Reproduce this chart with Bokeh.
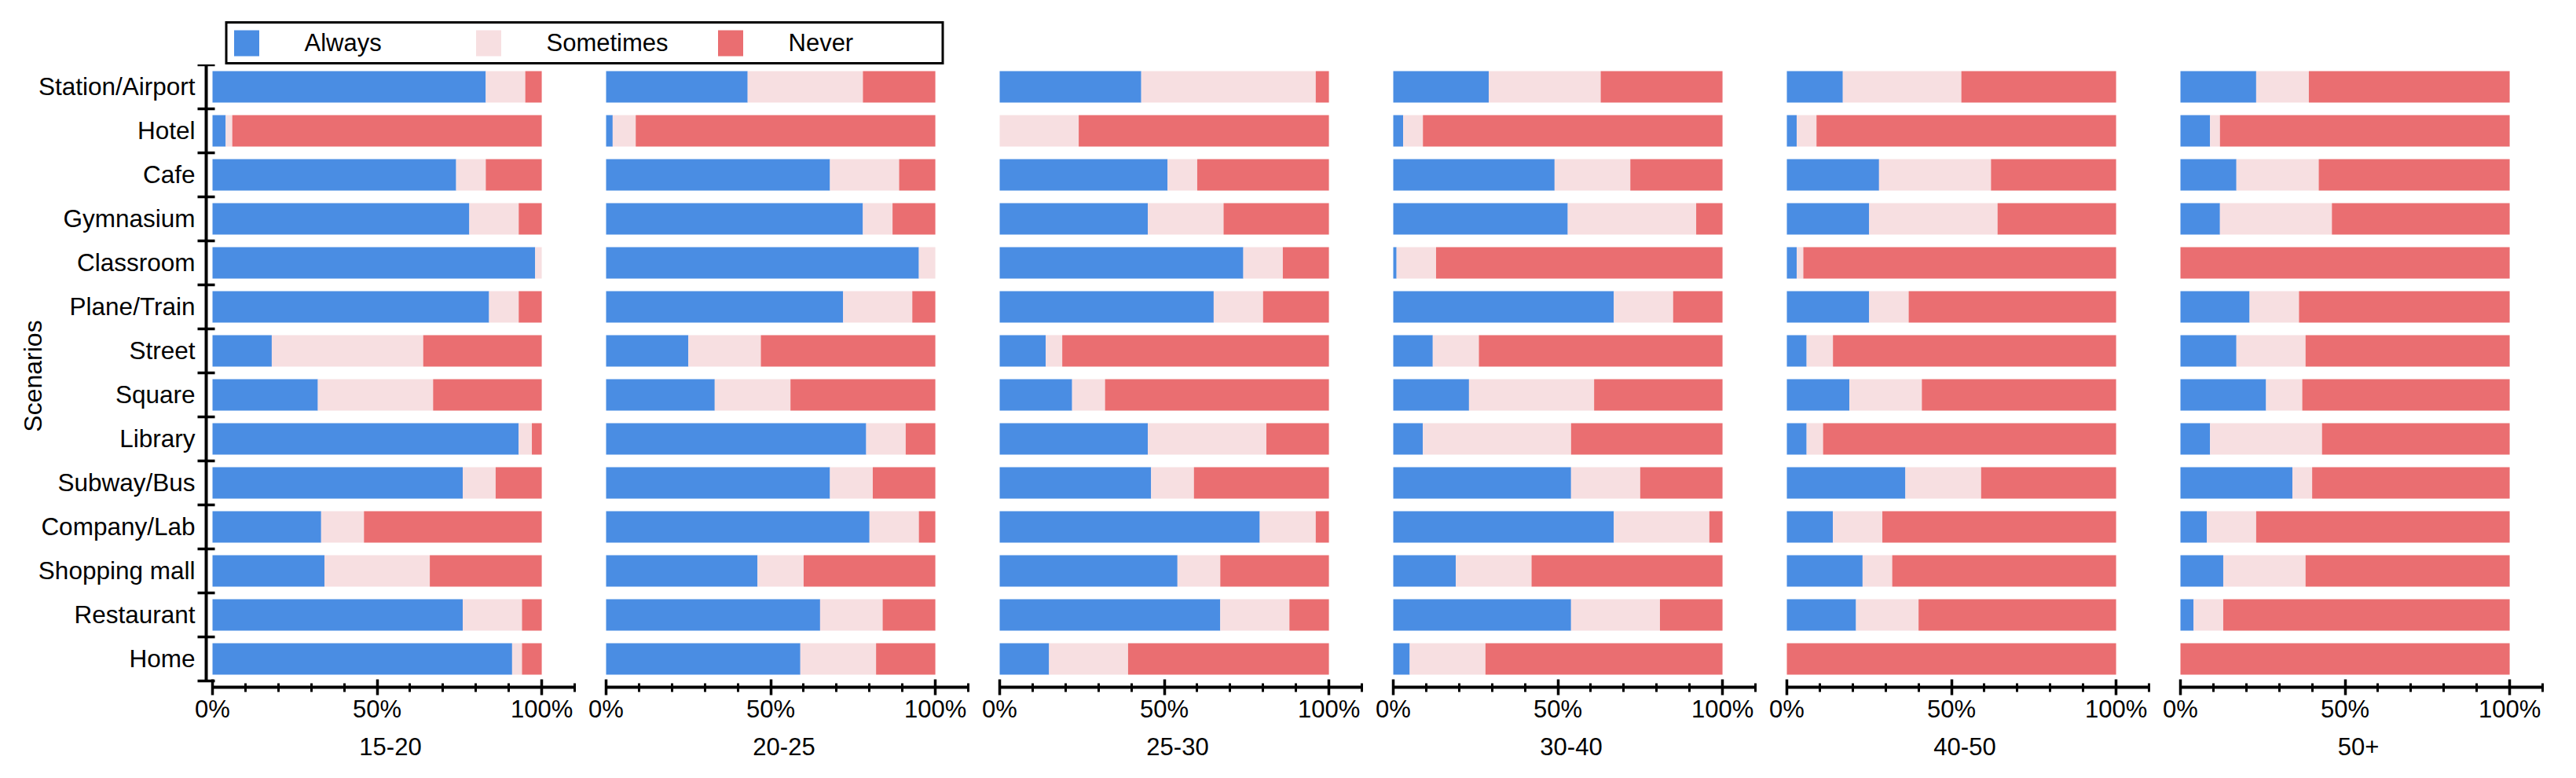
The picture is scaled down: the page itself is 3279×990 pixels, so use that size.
from bokeh.plotting import figure
from bokeh.models import (Range1d, FixedTicker, PrintfTickFormatter, ColumnDataSource,
                          Legend, LegendItem, Spacer)
from bokeh.layouts import column, row
from bokeh.embed import file_html
from bokeh.resources import INLINE

# ---------------- data ----------------
scenarios = ["Station/Airport", "Hotel", "Cafe", "Gymnasium", "Classroom", "Plane/Train",
             "Street", "Square", "Library", "Subway/Bus", "Company/Lab", "Shopping mall",
             "Restaurant", "Home"]
age_groups = ["15-20", "20-25", "25-30", "30-40", "40-50", "50+"]
responses = ["Always", "Sometimes", "Never"]
colors = ["#4A8DE3", "#F7DFE1", "#EA6E71"]

always_15_20 = [83, 4, 74, 78, 98, 84, 18, 32, 93, 76, 33, 34, 76, 91]
sometimes_15_20 = [12, 2, 9, 15, 2, 9, 46, 35, 4, 10, 13, 32, 18, 3]
never_15_20 = [5, 94, 17, 7, 0, 7, 36, 33, 3, 14, 54, 34, 6, 6]

always_20_25 = [43, 2, 68, 78, 95, 72, 25, 33, 79, 68, 80, 46, 65, 59]
sometimes_20_25 = [35, 7, 21, 9, 5, 21, 22, 23, 12, 13, 15, 14, 19, 23]
never_20_25 = [22, 91, 11, 13, 0, 7, 53, 44, 9, 19, 5, 40, 16, 18]

always_25_30 = [43, 0, 51, 45, 74, 65, 14, 22, 45, 46, 79, 54, 67, 15]
sometimes_25_30 = [53, 24, 9, 23, 12, 15, 5, 10, 36, 13, 17, 13, 21, 24]
never_25_30 = [4, 76, 40, 32, 14, 20, 81, 68, 19, 41, 4, 33, 12, 61]

always_30_40 = [29, 3, 49, 53, 1, 67, 12, 23, 9, 54, 67, 19, 54, 5]
sometimes_30_40 = [34, 6, 23, 39, 12, 18, 14, 38, 45, 21, 29, 23, 27, 23]
never_30_40 = [37, 91, 28, 8, 87, 15, 74, 39, 46, 25, 4, 58, 19, 72]

always_40_50 = [17, 3, 28, 25, 3, 25, 6, 19, 6, 36, 14, 23, 21, 0]
sometimes_40_50 = [36, 6, 34, 39, 2, 12, 8, 22, 5, 23, 15, 9, 19, 0]
never_40_50 = [47, 91, 38, 36, 95, 63, 86, 59, 89, 41, 71, 68, 60, 100]

always_50p = [23, 9, 17, 12, 0, 21, 17, 26, 9, 34, 8, 13, 4, 0]
sometimes_50p = [16, 3, 25, 34, 0, 15, 21, 11, 34, 6, 15, 25, 9, 0]
never_50p = [61, 88, 58, 54, 100, 64, 62, 63, 57, 60, 77, 62, 87, 100]

always = [always_15_20, always_20_25, always_25_30, always_30_40, always_40_50, always_50p]
sometimes = [sometimes_15_20, sometimes_20_25, sometimes_25_30, sometimes_30_40,
             sometimes_40_50, sometimes_50p]
never = [never_15_20, never_20_25, never_25_30, never_30_40, never_40_50, never_50p]

# ---------------- layout / style ----------------
FONT = "Liberation Sans"
n = len(scenarios)
positions = [n - 1 - i for i in range(n)]
boundaries = [k - 0.5 for k in range(n + 1)]

LEG_H = 82
PANEL_H = 974 - LEG_H

sources = []
panels = []
for i, grp in enumerate(age_groups):
    first = i == 0
    src = ColumnDataSource(dict(pos=positions, scenario=scenarios,
                                Always=always[i], Sometimes=sometimes[i], Never=never[i]))
    sources.append(src)
    p = figure(width=747 if first else 501, height=PANEL_H,
               x_range=Range1d(-1.909, 110), y_range=Range1d(-0.643, n - 0.5),
               output_backend="svg", toolbar_location=None,
               min_border_left=262 if first else 16, min_border_right=16,
               min_border_top=0, min_border_bottom=100)
    p.hbar_stack(responses, y="pos", height=0.716, fill_color=colors,
                 line_color=None, source=src)
    p.xgrid.visible = False
    p.ygrid.visible = False
    p.outline_line_color = None
    p.background_fill_color = "white"
    p.border_fill_color = "white"

    xa = p.xaxis[0]
    xa.bounds = (0, 110)
    xa.ticker = FixedTicker(ticks=[0, 50, 100], minor_ticks=list(range(0, 111, 10)))
    xa.formatter = PrintfTickFormatter(format="%d%%")
    xa.axis_label = grp
    xa.axis_line_width = 4
    xa.axis_line_color = "black"
    xa.major_tick_line_width = 3.5
    xa.major_tick_line_color = "black"
    xa.major_tick_in = 10
    xa.major_tick_out = 10
    xa.minor_tick_line_width = 3
    xa.minor_tick_line_color = "black"
    xa.minor_tick_in = 5
    xa.minor_tick_out = 6
    xa.major_label_text_font = FONT
    xa.major_label_text_font_size = "31px"
    xa.major_label_text_color = "black"
    xa.major_label_standoff = 0
    xa.axis_label_text_font = FONT
    xa.axis_label_text_font_size = "31px"
    xa.axis_label_text_font_style = "normal"
    xa.axis_label_text_color = "black"
    xa.axis_label_standoff = 16

    if first:
        ya = p.yaxis[0]
        ya.bounds = (-0.5, n - 0.5)
        ya.ticker = FixedTicker(ticks=positions, minor_ticks=boundaries)
        ya.major_label_overrides = {pos: name for pos, name in zip(positions, scenarios)}
        ya.major_tick_in = 0
        ya.major_tick_out = 0
        ya.minor_tick_in = 11
        ya.minor_tick_out = 11
        ya.minor_tick_line_width = 3.5
        ya.minor_tick_line_color = "black"
        ya.axis_line_width = 4
        ya.axis_line_color = "black"
        ya.major_label_standoff = 3
        ya.major_label_text_font = FONT
        ya.major_label_text_font_size = "31.5px"
        ya.major_label_text_color = "black"
        ya.axis_label = "Scenarios"
        ya.axis_label_text_font = FONT
        ya.axis_label_text_font_size = "32px"
        ya.axis_label_text_font_style = "normal"
        ya.axis_label_text_color = "black"
        ya.axis_label_standoff = -14
    else:
        p.yaxis.visible = False
    panels.append(p)

# ---------------- legend strip ----------------
# zero-height copies of the first panel's bars provide the legend swatches
LEG_X = 279
LEG_W = 930
leg = figure(width=LEG_W, height=LEG_H, x_range=Range1d(0, 100), y_range=Range1d(100, 101),
             output_backend="svg", toolbar_location=None, min_border=0,
             x_axis_location=None, y_axis_location=None)
leg.grid.visible = False
leg.outline_line_color = None
items = []
for name, c in zip(responses, colors):
    r = leg.hbar(y="pos", right=name, height=0, fill_color=c, line_color=None,
                 source=sources[0])
    items.append(LegendItem(label=name, renderers=[r]))
legend = Legend(items=items, orientation="horizontal", location="bottom_center",
                glyph_width=40, glyph_height=41, label_standoff=54,
                label_width=191, spacing=23, padding=4, margin=0,
                label_text_font=FONT, label_text_font_size="31px",
                label_text_color="black",
                border_line_color="black", border_line_width=3, border_line_alpha=1.0,
                background_fill_color="white", background_fill_alpha=1.0)
leg.add_layout(legend)

layout = column(row(Spacer(width=LEG_X, height=LEG_H), leg), row(*panels))
open("out.html", "w").write(file_html(layout, INLINE))
